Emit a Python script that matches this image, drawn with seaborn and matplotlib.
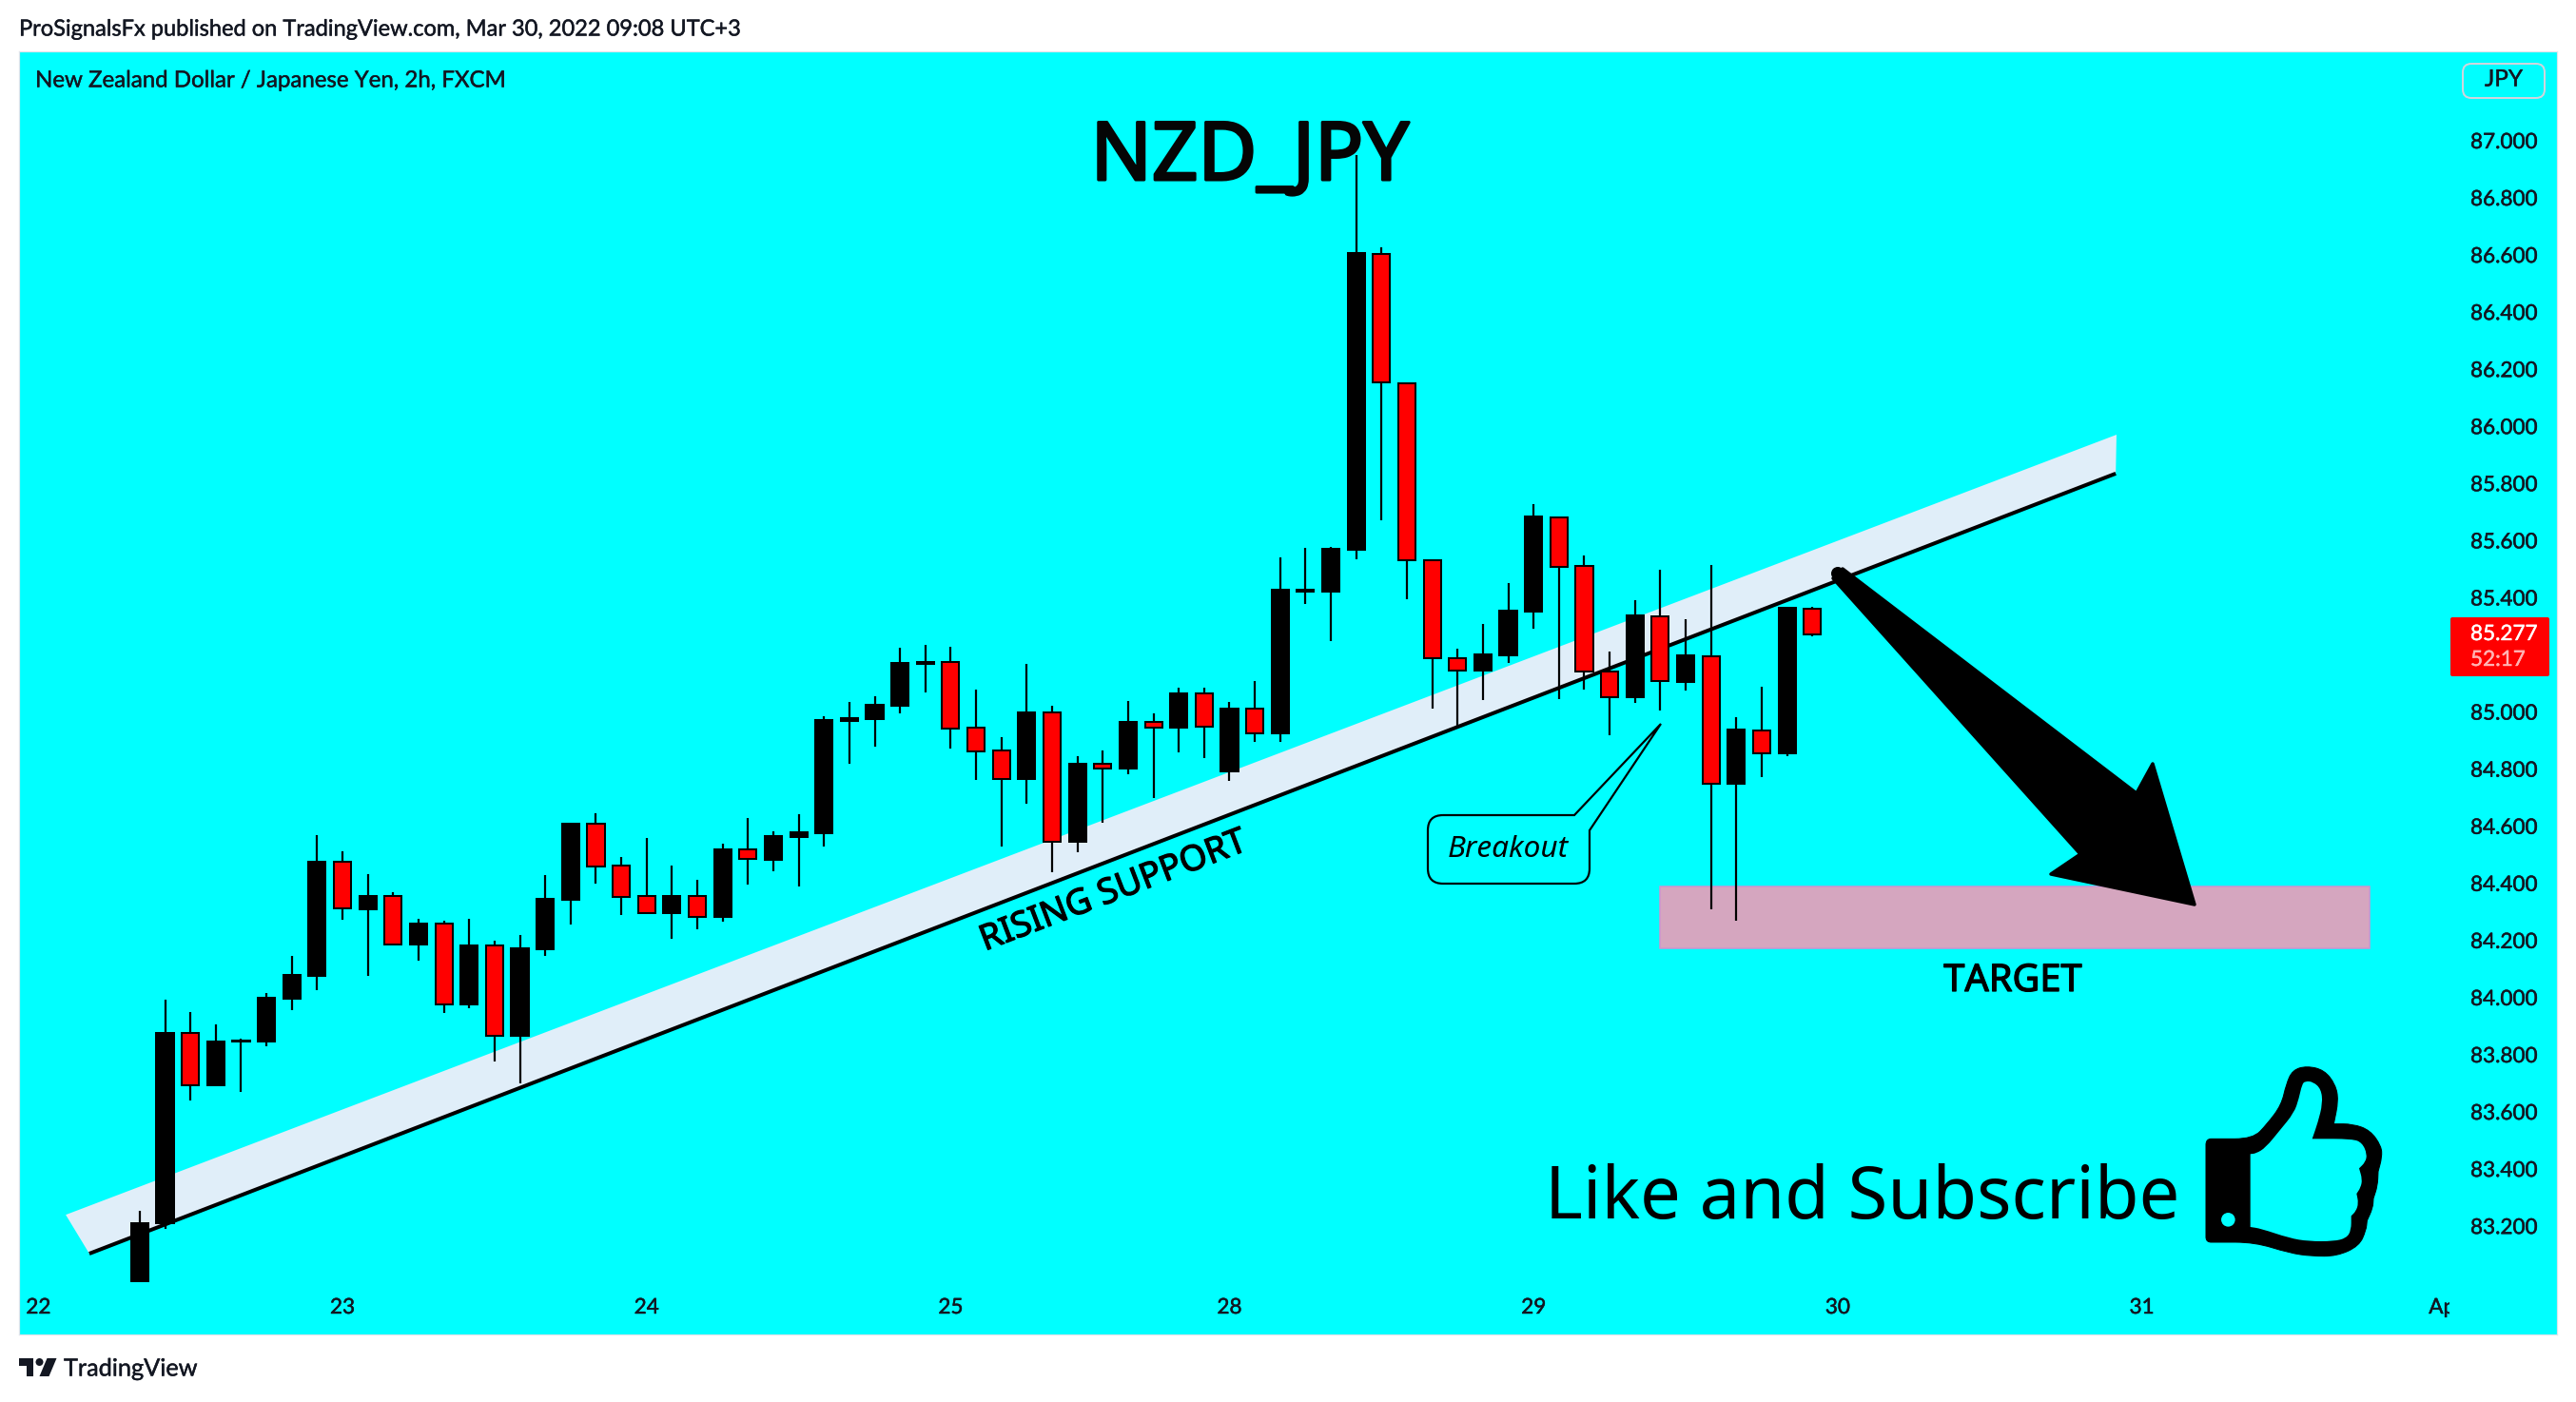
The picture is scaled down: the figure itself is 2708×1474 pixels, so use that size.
import numpy as np
import pandas as pd
import seaborn as sns
import matplotlib
matplotlib.use("Agg")
import matplotlib.pyplot as plt
import matplotlib.patheffects as pe
from matplotlib.patches import Polygon, Rectangle, PathPatch, Circle
from matplotlib.path import Path
from matplotlib.transforms import Affine2D, Bbox, IdentityTransform

# ---- data ---------------------------------------------------------------
opens = [83.011, 83.217, 83.882, 83.697, 83.850, 83.853, 84.002, 84.081, 84.480, 84.315,
         84.361, 84.191, 84.264, 83.981, 84.188, 83.872, 84.175, 84.348, 84.614, 84.468,
         84.361, 84.300, 84.361, 84.289, 84.524, 84.488, 84.569, 84.581, 84.975, 84.980,
         85.027, 85.175, 85.179, 84.949, 84.869, 84.771, 85.003, 84.551, 84.823, 84.807,
         84.969, 84.950, 85.069, 84.797, 85.016, 84.931, 85.427, 85.427, 85.573, 86.610,
         86.157, 85.535, 85.195, 85.149, 85.203, 85.356, 85.688, 85.515, 85.147, 85.058,
         85.341, 85.111, 85.201, 84.755, 84.941, 84.861, 85.368]
highs = [83.258, 83.999, 83.954, 83.911, 83.863, 84.023, 84.150, 84.575, 84.517, 84.438,
         84.373, 84.280, 84.275, 84.280, 84.204, 84.223, 84.433, 84.618, 84.650, 84.498,
         84.563, 84.467, 84.419, 84.543, 84.633, 84.589, 84.646, 84.992, 85.040, 85.060,
         85.230, 85.240, 85.234, 85.084, 84.917, 85.174, 85.027, 84.851, 84.871, 85.044,
         85.000, 85.090, 85.090, 85.040, 85.114, 85.548, 85.579, 85.583, 86.954, 86.632,
         86.157, 85.535, 85.228, 85.312, 85.455, 85.732, 85.688, 85.553, 85.216, 85.396,
         85.503, 85.330, 85.519, 84.987, 85.093, 85.375, 85.375]
lows = [83.011, 83.196, 83.646, 83.697, 83.675, 83.836, 83.961, 84.032, 84.278, 84.081,
        84.188, 84.135, 83.951, 83.968, 83.782, 83.706, 84.152, 84.262, 84.405, 84.295,
        84.298, 84.211, 84.244, 84.272, 84.402, 84.448, 84.394, 84.534, 84.823, 84.884,
        85.000, 85.074, 84.877, 84.767, 84.534, 84.684, 84.444, 84.514, 84.618, 84.787,
        84.704, 84.864, 84.844, 84.764, 84.901, 84.899, 85.385, 85.253, 85.539, 85.675,
        85.399, 85.017, 84.955, 85.046, 85.176, 85.296, 85.050, 85.083, 84.923, 85.038,
        85.010, 85.080, 84.315, 84.275, 84.778, 84.850, 85.271]
closes = [83.217, 83.882, 83.697, 83.850, 83.856, 84.005, 84.085, 84.481, 84.317, 84.361,
          84.191, 84.264, 83.983, 84.188, 83.873, 84.178, 84.351, 84.614, 84.464, 84.358,
          84.300, 84.361, 84.289, 84.524, 84.490, 84.571, 84.584, 84.978, 84.984, 85.030,
          85.177, 85.180, 84.948, 84.868, 84.772, 85.004, 84.551, 84.824, 84.808, 84.971,
          84.952, 85.070, 84.955, 85.017, 84.931, 85.432, 85.432, 85.576, 86.611, 86.159,
          85.535, 85.195, 85.151, 85.206, 85.359, 85.689, 85.514, 85.148, 85.058, 85.343,
          85.112, 85.202, 84.755, 84.943, 84.862, 85.370, 85.277]

price_ticks = [83.2, 83.4, 83.6, 83.8, 84.0, 84.2, 84.4, 84.6, 84.8, 85.0,
               85.4, 85.6, 85.8, 86.0, 86.2, 86.4, 86.6, 86.8, 87.0]
day_ticks = [-4, 8, 20, 32, 43, 55, 67, 79, 91]
day_labels = ["22", "23", "24", "25", "28", "29", "30", "31", "Apr"]

support_bars = [-1.99, 77.97]
support_prices = [83.109, 85.84]
band_top_prices = [83.245, 85.976]
band_top_bars = [-2.92, 78.0]
target_bars = [60, 88]
target_prices = [84.178, 84.395]

# ---- figure --------------------------------------------------------------
W, H = 2708, 1474
sns.set_theme(style="white")
plt.rcParams["font.family"] = ["Noto Sans", "DejaVu Sans"]
UI = "Lato"
INK = "#131722"
PX = 72 / 100  # one reference pixel, in points

fig = plt.figure(figsize=(W / 100, H / 100), dpi=100, facecolor="white")
ax = fig.add_axes([20 / W, (H - 1403) / H, 2668 / W, 1349 / H], facecolor="#00ffff")
ax.set_xlim(-4.763, 95.38)
ax.set_ylim(82.826, 87.318)
ref = Affine2D().scale(1, -1).translate(0, H)  # reference pixels -> display


def rp(points):
    return ref.transform(np.asarray(points, float))


# support band, line, target box
ax.add_patch(Polygon([(band_top_bars[0], band_top_prices[0]), (band_top_bars[1], band_top_prices[1]),
                      (support_bars[1], support_prices[1]), (support_bars[0], support_prices[0])],
                     closed=True, facecolor="#e0eef9", edgecolor="none", zorder=1))
ax.add_patch(Rectangle((target_bars[0], target_prices[0]), target_bars[1] - target_bars[0],
                       target_prices[1] - target_prices[0], facecolor="#d5a6bf",
                       edgecolor="#cf93cf", linewidth=1.5 * PX, zorder=1))

line_df = pd.DataFrame({"bar": support_bars, "price": support_prices})
sns.lineplot(data=line_df, x="bar", y="price", color="black", linewidth=4 * PX, ax=ax,
             zorder=2, solid_capstyle="butt", estimator=None, sort=False)

# candles
bars = np.arange(len(opens))
wick_df = pd.DataFrame({"bar": np.r_[bars, bars], "price": np.r_[lows, highs],
                        "candle": np.r_[bars, bars]})
sns.lineplot(data=wick_df, x="bar", y="price", units="candle", estimator=None, sort=False,
             color="black", linewidth=2.2 * PX, ax=ax, zorder=3, legend=False,
             solid_capstyle="butt")
o = np.array(opens)
c = np.array(closes)
up = c >= o
ax.bar(bars[up], (c - o)[up], bottom=o[up], width=0.68, color="black", edgecolor="black",
       linewidth=2 * PX, zorder=4)
ax.bar(bars[~up], (c - o)[~up], bottom=o[~up], width=0.68, color="#ff0000", edgecolor="black",
       linewidth=2 * PX, zorder=4)

# axes dressing
ax.set_xlabel("")
ax.set_ylabel("")
for s in ax.spines.values():
    s.set_color("#e0e3eb")
    s.set_linewidth(1.2 * PX)
ax.yaxis.tick_right()
ax.set_yticks(price_ticks)
ax.set_yticklabels([f"{v:.3f}" for v in price_ticks], fontfamily=UI, fontsize=16.2, color=INK)
ax.tick_params(axis="y", length=0, pad=-91 * PX)
ax.set_xticks(day_ticks)
ax.set_xticklabels(day_labels, fontfamily=UI, fontsize=16.2, color=INK)
ax.tick_params(axis="x", length=0, pad=-38 * PX)
for lab in ax.get_yticklabels():
    lab.set_path_effects([pe.withStroke(linewidth=0.35, foreground=INK)])
for lab in ax.get_xticklabels():
    lab.set_path_effects([pe.withStroke(linewidth=0.35, foreground=INK)])
apr = ax.get_xticklabels()[-1]
apr.set_clip_on(True)
apr.set_clip_box(Bbox.from_extents(0, 0, 2575, H))
fig.canvas.draw()
for tick in ax.yaxis.get_major_ticks():
    tick.label2.set_transform(tick.label2.get_transform() + Affine2D().translate(0, 1.5))


# annotations, placed in reference pixels
def put(x, y, s, stroke=0, **kw):
    kw.setdefault("ha", "center")
    kw.setdefault("va", "center")
    kw.setdefault("color", "black")
    t = fig.text(x / W, 1 - y / H, s, zorder=10, **kw)
    if stroke:
        t.set_path_effects([pe.withStroke(linewidth=stroke, foreground=kw["color"])])
    return t


put(1314, 167, "NZD_JPY", stroke=2.2, fontsize=61, color="#050505")
put(1171, 938, "RISING SUPPORT", stroke=0.9, fontsize=26.6, rotation=21, rotation_mode="anchor")
put(2116, 1032, "TARGET", stroke=0.9, fontsize=28.6)
put(1958, 1261, "Like and Subscribe", fontsize=54.7)
put(1585, 893, "Breakout", fontsize=22.7, style="italic")

# top and bottom captions
put(20, 31, "ProSignalsFx published on TradingView.com, Mar 30, 2022 09:08 UTC+3", ha="left",
    fontfamily=UI, fontsize=17, color=INK, stroke=0.3)
put(37, 85, "New Zealand Dollar / Japanese Yen, 2h, FXCM", ha="left", fontfamily=UI, fontsize=17.3,
    color=INK, stroke=0.3)
put(67, 1439, "TradingView", ha="left", fontfamily=UI, fontsize=18.2, color=INK, stroke=0.3)
put(2632, 84, "JPY", fontfamily=UI, fontsize=17.5, color=INK, stroke=0.3)


def add(patch):
    patch.set_transform(IdentityTransform())
    patch.set_clip_on(False)
    fig.add_artist(patch)
    return patch


def rounded(x0, y0, x1, y1, r, **kw):
    verts = [(x0 + r, y0), (x1 - r, y0), (x1, y0), (x1, y0 + r), (x1, y1 - r), (x1, y1),
             (x1 - r, y1), (x0 + r, y1), (x0, y1), (x0, y1 - r), (x0, y0 + r), (x0, y0),
             (x0 + r, y0)]
    codes = [Path.MOVETO, Path.LINETO, Path.CURVE3, Path.CURVE3, Path.LINETO, Path.CURVE3,
             Path.CURVE3, Path.LINETO, Path.CURVE3, Path.CURVE3, Path.LINETO, Path.CURVE3,
             Path.CURVE3]
    return add(PathPatch(Path(rp(verts), codes), **kw))


# JPY button and price tag
rounded(2589, 67, 2675, 103, 9, facecolor="none", edgecolor="#d1d4dc", linewidth=2 * PX, zorder=9)
rounded(2576, 649, 2680, 711, 2, facecolor="#ff0000", edgecolor="none", zorder=9)
put(2597, 667, "85.277", ha="left", fontfamily=UI, fontsize=16.2, color="white", stroke=0.3)
put(2597, 694, "52:17", ha="left", fontfamily=UI, fontsize=16.2, color="#ffb3b3", stroke=0.3)

# Breakout callout
bub = [(1517, 857), (1655, 857), (1746, 761), (1671, 873), (1671, 913), (1671, 929), (1655, 929),
       (1517, 929), (1501, 929), (1501, 913), (1501, 873), (1501, 857), (1517, 857)]
bub_c = [Path.MOVETO, Path.LINETO, Path.LINETO, Path.LINETO, Path.LINETO, Path.CURVE3, Path.CURVE3,
         Path.LINETO, Path.CURVE3, Path.CURVE3, Path.LINETO, Path.CURVE3, Path.CURVE3]
add(PathPatch(Path(rp(bub), bub_c), facecolor="none", edgecolor="black", linewidth=2.2 * PX,
              zorder=9, joinstyle="miter"))

# big arrow
arrow = [(1937, 598), (2246, 834), (2263, 803), (2307, 951), (2156, 919), (2187, 898), (1927, 608)]
add(Polygon(rp(arrow), closed=True, facecolor="black", edgecolor="black", linewidth=3.5 * PX,
            joinstyle="round", zorder=8))
add(Circle(tuple(rp([(1932, 603)])[0]), 7, facecolor="black", edgecolor="none", zorder=8))

# thumbs-up icon; a repeated vertex keeps a sharp corner
outer = [(240, 352), (355, 352), (400, 305), (445, 245), (460, 180), (480, 135), (525, 122), (580, 135),
         (615, 180), (625, 230), (610, 305), (610, 305), (670, 305), (725, 325), (760, 375), (762, 410),
         (750, 455), (750, 455), (748, 500), (735, 540), (735, 540), (733, 570), (715, 610), (715, 610),
         (712, 640), (690, 690), (620, 722), (540, 722), (470, 712), (360, 678), (240, 678), (207, 678),
         (207, 645), (207, 390), (207, 352)]
inner = [(347, 400), (347, 400), (365, 398), (395, 380), (440, 325), (485, 270), (500, 225), (510, 180),
         (520, 170), (545, 172), (570, 195), (575, 240), (560, 300), (542, 352), (542, 352), (670, 352),
         (700, 365), (715, 400), (710, 425), (690, 445), (690, 445), (700, 480), (695, 505), (682, 525),
         (682, 525), (688, 555), (680, 580), (665, 595), (665, 595), (665, 640), (650, 665), (610, 675),
         (530, 675), (470, 665), (380, 635), (347, 630), (347, 630)]


def thumb(pts):
    p = np.asarray(pts, float)
    return rp(np.c_[2250 + p[:, 0] / 3, 1080 + p[:, 1] / 3])


def smooth(pts):
    p = thumb(pts)
    mids = (p + np.roll(p, -1, axis=0)) / 2
    verts = [mids[-1]]
    codes = [Path.MOVETO]
    for k in range(len(p)):
        verts += [p[k], mids[k]]
        codes += [Path.CURVE3, Path.CURVE3]
    return Path(np.array(verts), codes)


add(PathPatch(smooth(outer), facecolor="black", edgecolor="black", linewidth=1 * PX, zorder=8))
add(PathPatch(smooth(inner), facecolor="#00ffff", edgecolor="none", zorder=9))
add(Circle(tuple(thumb([(277, 607)])[0]), 7.3, facecolor="#00ffff", edgecolor="none", zorder=9))

# TradingView mark
add(Polygon(rp([(20, 1428), (35, 1428), (35, 1447), (27.5, 1447), (27.5, 1436), (20, 1436)]),
            closed=True, facecolor=INK, edgecolor="none", zorder=9))
add(Circle(tuple(rp([(41.5, 1432)])[0]), 4, facecolor=INK, edgecolor="none", zorder=9))
add(Polygon(rp([(49.5, 1428), (59.5, 1428), (51.5, 1447), (41.5, 1447)]), closed=True, facecolor=INK,
            edgecolor="none", zorder=9))

fig.savefig("out.png", dpi=100, facecolor="white")
